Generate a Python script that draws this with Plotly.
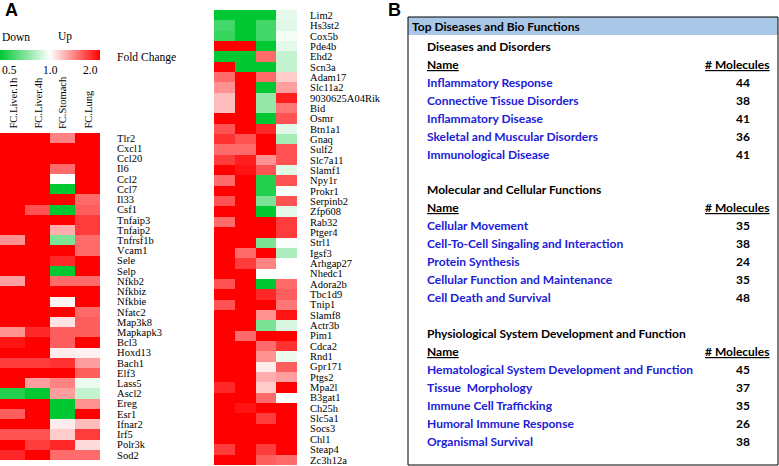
import numpy as np
import plotly.graph_objects as go

W, H = 779, 466

# ---- panel A data: fold change per gene (columns: liver 1h, liver 4h, stomach, lung)
columns = ["FC.Liver.1h", "FC.Liver.4h", "FC.Stomach", "FC.Lung"]

genes_left = ["Tlr2", "Cxcl1", "Ccl20", "Il6", "Ccl2", "Ccl7", "Il33", "Csf1",
              "Tnfaip3", "Tnfaip2", "Tnfrsf1b", "Vcam1", "Sele", "Selp", "Nfkb2",
              "Nfkbiz", "Nfkbie", "Nfatc2", "Map3k8", "Mapkapk3", "Bcl3", "Hoxd13",
              "Bach1", "Elf3", "Lass5", "Ascl2", "Ereg", "Esr1", "Ifnar2", "Irf5",
              "Polr3k", "Sod2"]
fc_left = [
    [2.0, 2.0, 1.4, 2.0], [2.0, 2.0, 2.0, 2.0], [2.0, 2.0, 2.0, 2.0],
    [2.0, 2.0, 1.5, 2.0], [2.0, 2.0, 1.0, 2.0], [2.0, 2.0, 0.5, 2.0],
    [2.0, 2.0, 2.0, 1.5], [2.0, 1.6, 0.5, 1.55], [2.0, 2.0, 2.0, 1.7],
    [2.0, 2.0, 1.25, 1.7], [1.35, 2.0, 0.7, 1.5], [2.0, 2.0, 2.0, 1.5],
    [2.0, 2.0, 1.8, 2.0], [2.0, 2.0, 0.5, 2.0], [1.3, 2.0, 1.5, 1.5],
    [2.0, 2.0, 2.0, 2.0], [2.0, 2.0, 1.03, 2.0], [2.0, 2.0, 2.0, 1.5],
    [2.0, 2.0, 1.08, 1.55], [1.35, 1.8, 1.55, 1.55], [1.9, 2.0, 1.55, 2.0],
    [2.0, 2.0, 1.05, 1.04], [1.7, 1.7, 1.75, 1.3], [2.0, 2.0, 2.0, 1.55],
    [2.0, 1.3, 1.4, 0.95], [0.55, 0.5, 1.3, 0.85], [2.0, 2.0, 0.5, 1.35],
    [1.55, 2.0, 0.5, 2.0], [2.0, 2.0, 1.05, 1.2], [1.6, 1.6, 1.15, 1.7],
    [2.0, 1.7, 1.8, 1.1], [1.8, 2.0, 1.5, 1.5],
]

genes_right = ["Lim2", "Hs3st2", "Cox5b", "Pde4b", "Ehd2", "Scn3a", "Adam17",
               "Slc11a2", "9030625A04Rik", "Bid", "Osmr", "Btn1a1", "Gnaq", "Sulf2",
               "Slc7a11", "Slamf1", "Npy1r", "Prokr1", "Serpinb2", "Zfp608", "Rab32",
               "Ptger4", "Strl1", "Igsf3", "Arhgap27", "Nhedc1", "Adora2b", "Tbc1d9",
               "Tnip1", "Slamf8", "Actr3b", "Pim1", "Cdca2", "Rnd1", "Gpr171", "Ptgs2",
               "Mpa2l", "B3gat1", "Ch25h", "Slc5a1", "Socs3", "Chl1", "Steap4", "Zc3h12a"]
fc_right = [
    [0.5, 0.5, 0.5, 0.93], [0.6, 0.5, 0.6, 0.92], [0.58, 0.5, 0.6, 0.97],
    [2.0, 2.0, 0.5, 0.93], [0.5, 0.5, 1.5, 0.85], [2.0, 0.5, 0.5, 0.85],
    [1.5, 2.0, 1.5, 1.15], [1.35, 2.0, 0.5, 1.3], [1.2, 2.0, 0.75, 1.85],
    [1.2, 2.0, 0.75, 1.45], [2.0, 2.0, 0.5, 1.6], [1.6, 2.0, 1.8, 0.92],
    [1.75, 1.6, 2.0, 0.78], [1.5, 1.5, 2.0, 1.6], [1.7, 1.85, 1.35, 1.6],
    [2.0, 1.9, 1.6, 0.92], [1.5, 2.0, 0.55, 1.6], [2.0, 2.0, 0.55, 0.98],
    [1.6, 2.0, 0.7, 1.6], [2.0, 2.0, 0.5, 0.93], [1.5, 2.0, 2.0, 1.7],
    [2.0, 2.0, 2.0, 1.7], [2.0, 2.0, 0.7, 0.98], [2.0, 1.5, 2.0, 0.8],
    [2.0, 1.7, 1.4, 1.0], [2.0, 2.0, 1.0, 1.0], [1.6, 2.0, 0.5, 1.5],
    [2.0, 2.0, 1.8, 1.55], [1.6, 2.0, 2.0, 1.45], [2.0, 2.0, 1.35, 1.9],
    [2.0, 2.0, 0.7, 0.9], [2.0, 1.5, 2.0, 2.0], [2.0, 2.0, 1.5, 1.75],
    [2.0, 2.0, 1.35, 0.95], [2.0, 2.0, 1.05, 1.55], [2.0, 2.0, 1.25, 1.3],
    [1.8, 2.0, 1.15, 2.0], [2.0, 2.0, 1.5, 1.0], [2.0, 1.9, 2.0, 2.0],
    [2.0, 2.0, 1.7, 2.0], [2.0, 2.0, 2.0, 2.0], [2.0, 2.0, 2.0, 2.0],
    [1.7, 2.0, 1.7, 2.0], [2.0, 2.0, 1.55, 1.5],
]

# ---- panel B data
disease_names = ["Inflammatory Response", "Connective Tissue Disorders",
                 "Inflammatory Disease", "Skeletal and Muscular Disorders",
                 "Immunological Disease"]
disease_counts = [44, 38, 41, 36, 41]
molecular_names = ["Cellular Movement", "Cell-To-Cell Singaling and Interaction",
                   "Protein Synthesis", "Cellular Function and Maintenance",
                   "Cell Death and Survival"]
molecular_counts = [35, 38, 24, 35, 48]
physio_names = ["Hematological System Development and Function", "Tissue  Morphology",
                "Immune Cell Trafficking", "Humoral Immune Response", "Organismal Survival"]
physio_counts = [45, 37, 35, 26, 38]


def px_x(v):
    return v / W


def px_y(v):
    return 1 - v / H


scale = [[0.0, "rgb(0,200,50)"], [0.5, "rgb(255,255,255)"], [1.0, "rgb(255,0,0)"]]
serif = "Liberation Serif"
sans = "Lato"

fig = go.Figure()

fig.add_trace(go.Heatmap(
    z=np.log2(np.array(fc_left)), x=columns, y=genes_left,
    colorscale=scale, zmin=-1, zmax=1, xaxis="x", yaxis="y",
    colorbar=dict(orientation="h", x=0, xanchor="left", y=px_y(50), yanchor="top",
                  len=100, lenmode="pixels", thickness=10, outlinewidth=0,
                  showticklabels=False, ticks="", xpad=0, ypad=0),
))
fig.add_trace(go.Heatmap(
    z=np.log2(np.array(fc_right)), x=columns, y=genes_right,
    colorscale=scale, zmin=-1, zmax=1, showscale=False, xaxis="x2", yaxis="y2",
))

ytick = dict(side="right", autorange="reversed", ticks="outside", automargin=False,
             tickcolor="rgba(0,0,0,0)", showgrid=False, zeroline=False, tickmode="linear",
             dtick=1, tickfont=dict(family=serif, size=10.5, color="black"))
fig.update_layout(
    width=W, height=H, margin=dict(l=0, r=0, t=0, b=0, autoexpand=False),
    paper_bgcolor="white", plot_bgcolor="white", showlegend=False,
    xaxis=dict(domain=[0, px_x(100)], visible=False, anchor="y"),
    yaxis=dict(domain=[px_y(460), px_y(133)], anchor="x", ticklen=14, **ytick),
    xaxis2=dict(domain=[px_x(214), px_x(297)], visible=False, anchor="y2"),
    yaxis2=dict(domain=[px_y(465), px_y(10)], anchor="x2", ticklen=10, **ytick),
)

ann = []
# panel letters
ann.append(dict(text="<b>A</b>", x=px_x(3), y=px_y(10), xanchor="left",
                font=dict(family="Liberation Sans", size=18, color="black")))
ann.append(dict(text="<b>B</b>", x=px_x(386), y=px_y(10), xanchor="left",
                font=dict(family="Liberation Sans", size=18, color="black")))

# colour key text
key_font = dict(family=serif, size=11.5, color="black")
ann += [
    dict(text="Down", x=0, y=px_y(37), xanchor="left", font=key_font),
    dict(text="Up", x=px_x(56), y=px_y(37), xanchor="left", font=key_font),
    dict(text="Fold Change", x=px_x(115), y=px_y(58), xanchor="left", font=key_font),
    dict(text="0.5", x=0, y=px_y(70), xanchor="left", font=key_font),
    dict(text="1.0", x=px_x(50), y=px_y(70), xanchor="center", font=key_font),
    dict(text="2.0", x=px_x(100), y=px_y(70), xanchor="right", font=key_font),
]
# column headers
for i, c in enumerate(columns):
    ann.append(dict(text=c, x=px_x(12.5 + 25 * i), y=px_y(131), textangle=-90,
                    xanchor="center", yanchor="bottom",
                    font=dict(family=serif, size=10.5, color="black")))

# panel B table
blue = "#2020d8"
ann.append(dict(text="<b>Top Diseases and Bio Functions</b>", x=px_x(410), y=px_y(27),
                xanchor="left", font=dict(family=sans, size=12, color="black")))
sections = [("Diseases and Disorders", disease_names, disease_counts),
            ("Molecular and Cellular Functions", molecular_names, molecular_counts),
            ("Physiological System Development and Function", physio_names, physio_counts)]
for k, (title, names, counts) in enumerate(sections):
    y0 = 46 + k * 143.5
    ann.append(dict(text="<b>" + title + "</b>", x=px_x(425), y=px_y(y0), xanchor="left",
                    font=dict(family=sans, size=12, color="black")))
    ann.append(dict(text="<b><span style='text-decoration:underline'>Name</span></b>",
                    x=px_x(425), y=px_y(y0 + 18), xanchor="left",
                    font=dict(family=sans, size=12, color="black")))
    ann.append(dict(text="<b><span style='text-decoration:underline'># Molecules</span></b>",
                    x=px_x(772), y=px_y(y0 + 18), xanchor="right",
                    font=dict(family=sans, size=12, color="black")))
    for j, (n, c) in enumerate(zip(names, counts)):
        yy = y0 + 36 + j * 18
        ann.append(dict(text="<b>" + n + "</b>", x=px_x(425), y=px_y(yy), xanchor="left",
                        font=dict(family=sans, size=12, color=blue)))
        ann.append(dict(text="<b>%d</b>" % c, x=px_x(743), y=px_y(yy), xanchor="center",
                        font=dict(family=sans, size=12, color="black")))

for a in ann:
    a.update(xref="paper", yref="paper", showarrow=False, yanchor=a.get("yanchor", "middle"))
fig.update_layout(annotations=ann)

fig.update_layout(shapes=[
    dict(type="rect", xref="paper", yref="paper", x0=px_x(408), x1=px_x(778),
         y0=px_y(17), y1=px_y(35), fillcolor="#a9c8e8", line=dict(width=0), layer="below"),
    dict(type="rect", xref="paper", yref="paper", x0=px_x(408), x1=px_x(778),
         y0=px_y(465), y1=px_y(17), line=dict(color="black", width=1)),
])

# page body has a default 8px margin; drop it so the figure sits at the window corner
fig.write_html("out.html", config={"displayModeBar": False},
               post_script="document.body.style.margin='0';")
